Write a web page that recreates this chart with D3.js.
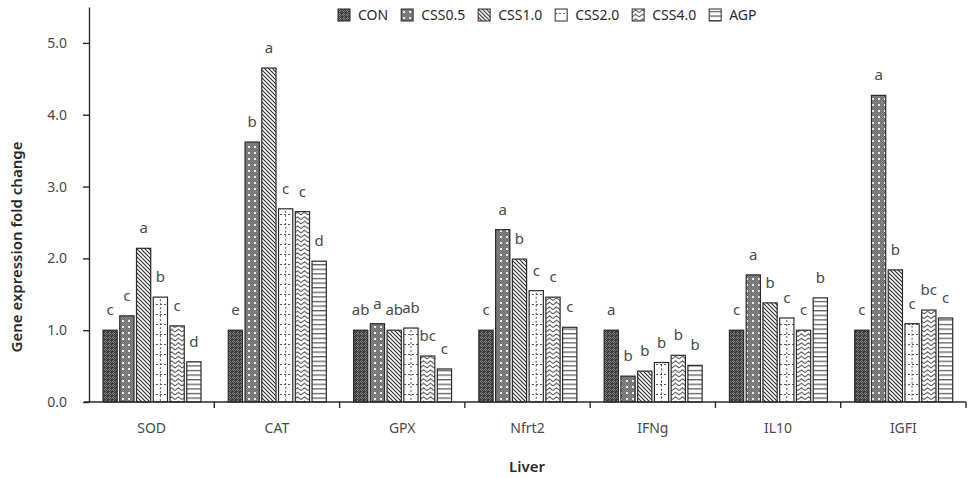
<!DOCTYPE html>
<html>
<head>
<meta charset="utf-8">
<script src="https://cdn.jsdelivr.net/npm/d3@7/dist/d3.min.js"></script>
<style>
  html, body { margin: 0; padding: 0; background: #fff; }
  svg { display: block; font-family: "Noto Sans", "Open Sans", sans-serif; }
</style>
</head>
<body>
<svg id="chart" width="970" height="478"></svg>
<script>
// Liver gene expression (fold change vs. CON)
const categories = ["SOD", "CAT", "GPX", "Nfrt2", "IFNg", "IL10", "IGFI"];
const series = ["CON", "CSS0.5", "CSS1.0", "CSS2.0", "CSS4.0", "AGP"];

const valCON    = [1.00, 1.00, 1.00, 1.00, 1.00, 1.00, 1.00];
const valCSS05  = [1.20, 3.62, 1.09, 2.40, 0.36, 1.77, 4.27];
const valCSS10  = [2.14, 4.65, 1.00, 1.99, 0.43, 1.38, 1.84];
const valCSS20  = [1.46, 2.69, 1.03, 1.55, 0.55, 1.17, 1.09];
const valCSS40  = [1.06, 2.65, 0.64, 1.46, 0.65, 1.00, 1.28];
const valAGP    = [0.56, 1.96, 0.46, 1.04, 0.51, 1.45, 1.17];

const sigCON    = ["c", "e", "ab", "c", "a", "c", "c"];
const sigCSS05  = ["c", "b", "a", "a", "b", "a", "a"];
const sigCSS10  = ["a", "a", "ab", "b", "b", "b", "b"];
const sigCSS20  = ["b", "c", "ab", "c", "b", "c", "c"];
const sigCSS40  = ["c", "c", "bc", "c", "b", "c", "bc"];
const sigAGP    = ["d", "d", "c", "c", "b", "b", "c"];

const yTicks = [0, 1, 2, 3, 4, 5];

const values = [valCON, valCSS05, valCSS10, valCSS20, valCSS40, valAGP];
const sigs = [sigCON, sigCSS05, sigCSS10, sigCSS20, sigCSS40, sigAGP];

const svg = d3.select("#chart");
const ink = "#2b2b2b";
const textCol = "#4a4a4a";

// ---------- fill patterns ----------
const defs = svg.append("defs");
const px = (p, x, y, c, w = 1, h = 1) =>
  p.append("rect").attr("x", x).attr("y", y).attr("width", w).attr("height", h).attr("fill", c);

// CON: dark lattice with light crosses
{
  const p = defs.append("pattern").attr("id", "p0").attr("patternUnits", "userSpaceOnUse")
    .attr("width", 4).attr("height", 4);
  px(p, 0, 0, "#3c3c3c", 4, 4);
  px(p, 1, 0, "#8c8c8c"); px(p, 0, 1, "#8c8c8c"); px(p, 2, 1, "#8c8c8c"); px(p, 1, 2, "#8c8c8c");
  px(p, 3, 2, "#6a6a6a"); px(p, 2, 3, "#6a6a6a");
}
// CSS0.5: grey stipple with light dots
{
  const p = defs.append("pattern").attr("id", "p1").attr("patternUnits", "userSpaceOnUse")
    .attr("width", 6).attr("height", 6);
  px(p, 0, 0, "#8a8a8a", 6, 6);
  for (let i = 0; i < 6; i++) for (let j = 0; j < 6; j++) {
    if ((i + j) % 2 === 0) px(p, i, j, "#6a6a6a");
  }
  px(p, 2, 2, "#ececec", 2, 2);
}
// CSS1.0: back-diagonal lines
{
  const p = defs.append("pattern").attr("id", "p2").attr("patternUnits", "userSpaceOnUse")
    .attr("width", 4).attr("height", 4);
  px(p, 0, 0, "#fff", 4, 4);
  p.append("path").attr("d", "M-1,-1 L5,5 M-1,3 L1,5 M3,-1 L5,1")
    .attr("stroke", "#333").attr("stroke-width", 1.2);
}
// CSS2.0: white with dotted horizontal rules
{
  const p = defs.append("pattern").attr("id", "p3").attr("patternUnits", "userSpaceOnUse")
    .attr("width", 4).attr("height", 10);
  px(p, 0, 0, "#fff", 4, 10);
  px(p, 0, 4, "#555", 2, 1);
}
// CSS4.0: chevrons
{
  const p = defs.append("pattern").attr("id", "p4").attr("patternUnits", "userSpaceOnUse")
    .attr("width", 7).attr("height", 4.5);
  px(p, 0, 0, "#fff", 7, 4.5);
  p.append("path").attr("d", "M0,3.5 L3.5,0.8 L7,3.5").attr("fill", "none")
    .attr("stroke", "#333").attr("stroke-width", 1);
}
// AGP: horizontal lines
{
  const p = defs.append("pattern").attr("id", "p5").attr("patternUnits", "userSpaceOnUse")
    .attr("width", 4).attr("height", 4.6);
  px(p, 0, 0, "#fff", 4, 4.6);
  px(p, 0, 2, "#444", 4, 1.1);
}

// ---------- scales ----------
const x0 = d3.scaleBand().domain(categories).range([89, 966]).padding(0);
const x1 = d3.scaleBand().domain(series).range([14, 112]).paddingInner(0.15);
const y = d3.scaleLinear().domain([0, 5.5]).range([402, 7]);

// ---------- bars ----------
const rows = [];
categories.forEach((c, ci) => series.forEach((s, si) => {
  rows.push({ c, s, si, v: values[si][ci], sig: sigs[si][ci] });
}));

const bars = svg.append("g");
bars.selectAll("rect").data(rows).join("rect")
  .attr("x", d => x0(d.c) + x1(d.s))
  .attr("y", d => y(d.v))
  .attr("width", x1.bandwidth())
  .attr("height", d => y(0) - y(d.v))
  .attr("fill", d => `url(#p${d.si})`)
  .attr("stroke", ink).attr("stroke-width", 1.2);

// vertical dotted centre line for CSS2.0 bars
bars.selectAll("line.mid").data(rows.filter(d => d.si === 3)).join("line")
  .attr("class", "mid")
  .attr("x1", d => x0(d.c) + x1(d.s) + x1.bandwidth() / 2)
  .attr("x2", d => x0(d.c) + x1(d.s) + x1.bandwidth() / 2)
  .attr("y1", d => y(d.v) + 2).attr("y2", y(0) - 1)
  .attr("stroke", "#555").attr("stroke-width", 1).attr("stroke-dasharray", "2,2");

// significance letters
svg.append("g").selectAll("text").data(rows).join("text")
  .attr("x", d => x0(d.c) + x1(d.s) + x1.bandwidth() / 2)
  .attr("y", d => y(d.v) - 15)
  .attr("text-anchor", "middle")
  .attr("font-size", 15).attr("fill", textCol)
  .text(d => d.sig);

// ---------- axes ----------
const yAxis = svg.append("g").attr("transform", "translate(89,0)")
  .call(d3.axisLeft(y).tickValues(yTicks).tickFormat(d3.format(".1f")).tickSize(6).tickSizeOuter(0).tickPadding(16));
yAxis.select(".domain").attr("stroke", ink).attr("stroke-width", 1.4);
yAxis.selectAll(".tick line").attr("stroke", ink).attr("stroke-width", 1.4);
yAxis.selectAll(".tick text").attr("font-size", 14).attr("fill", textCol)
  .attr("font-family", "\"Noto Sans\", sans-serif");

const xAxis = svg.append("g").attr("transform", "translate(0,402)");
xAxis.append("line").attr("x1", 84).attr("x2", x0.range()[1]).attr("y1", 0).attr("y2", 0)
  .attr("stroke", ink).attr("stroke-width", 1.4);
xAxis.selectAll("line.tk").data(categories).join("line").attr("class", "tk")
  .attr("x1", d => x0(d) + x0.bandwidth()).attr("x2", d => x0(d) + x0.bandwidth())
  .attr("y1", 0).attr("y2", 6).attr("stroke", ink).attr("stroke-width", 1.4);
xAxis.selectAll("text").data(categories).join("text")
  .attr("x", d => x0(d) + x0.bandwidth() / 2).attr("y", 31)
  .attr("text-anchor", "middle").attr("font-size", 14).attr("fill", textCol)
  .text(d => d);

// axis titles
svg.append("text").attr("x", 527).attr("y", 472).attr("text-anchor", "middle")
  .attr("font-size", 15).attr("font-weight", 600).attr("fill", "#2a2a2a").text("Liver");
svg.append("text").attr("transform", "translate(22,247) rotate(-90)").attr("text-anchor", "middle")
  .attr("font-size", 15).attr("font-weight", 600).attr("fill", "#2a2a2a").text("Gene expression fold change");

// ---------- legend ----------
const legend = svg.append("g").attr("transform", "translate(338,9)");
let lx = 0;
series.forEach((s, si) => {
  const g = legend.append("g").attr("transform", `translate(${lx},0)`);
  g.append("rect").attr("width", 12).attr("height", 12)
    .attr("fill", `url(#p${si})`).attr("stroke", ink).attr("stroke-width", 1);
  const t = g.append("text").attr("x", 20).attr("y", 11).attr("font-size", 14).attr("fill", "#2a2a2a").text(s);
  lx += 20 + t.node().getComputedTextLength() + 13;
});
</script>
</body>
</html>
